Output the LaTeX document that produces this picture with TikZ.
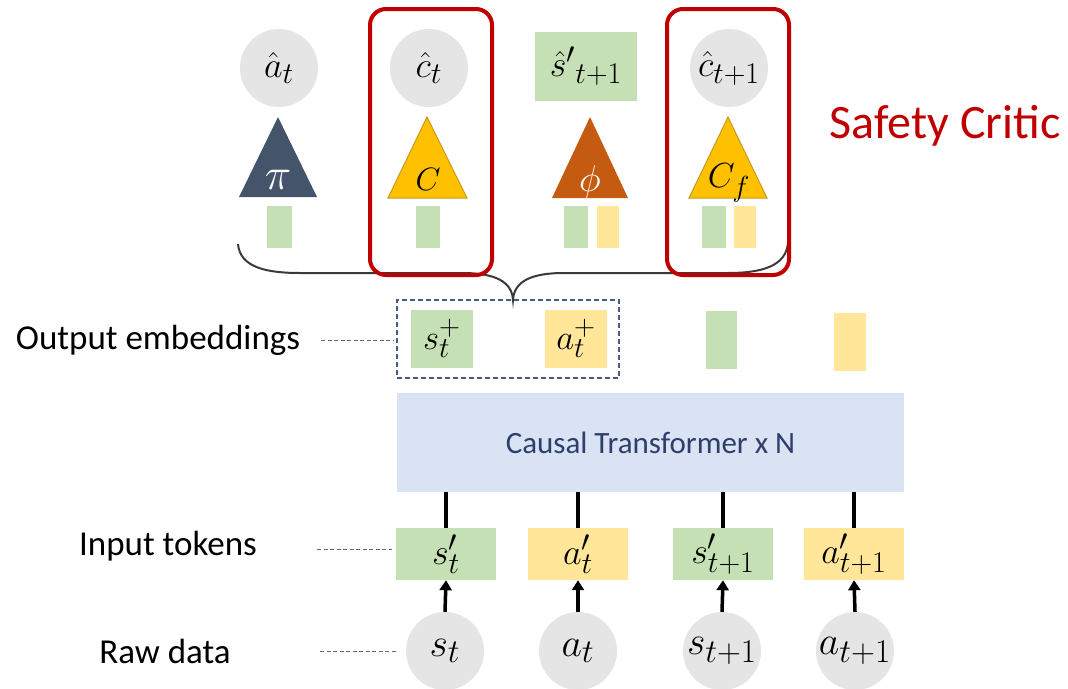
\documentclass[tikz,border=0pt]{standalone}
\usepackage{fontspec}
\setmainfont{Carlito}
\usetikzlibrary{arrows.meta}

\definecolor{tokgreen}{HTML}{C5E0B4}
\definecolor{tokyellow}{HTML}{FFE699}
\definecolor{rawgray}{HTML}{E6E5E5}
\definecolor{pinavy}{HTML}{44546A}
\definecolor{critgold}{HTML}{FFC000}
\definecolor{critedge}{HTML}{C99A1A}
\definecolor{dynorange}{HTML}{C55A11}
\definecolor{tfblue}{HTML}{DAE3F3}
\definecolor{tftext}{HTML}{2F3E6B}
\definecolor{safered}{HTML}{C00000}
\definecolor{embdash}{HTML}{4A5A85}
\definecolor{bracegray}{HTML}{3A3A3A}

% math labels: set at 24.88pt, then enlarged by a factor
\newcommand{\mathbase}{\fontsize{24.88}{30}\selectfont}
\newcommand{\mlbl}[2]{\scalebox{#1}{$#2$}}
\newcommand{\rowsize}{\fontsize{35}{42}\selectfont}

\begin{document}
\begin{tikzpicture}[x=1pt,y=-1pt,
  rawcirc/.style={circle, fill=rawgray, minimum size=78pt, inner sep=0pt, font=\mathbase},
  tokbox/.style={rectangle, minimum width=100pt, minimum height=52pt, inner sep=0pt, font=\mathbase},
  embbox/.style={rectangle, minimum height=58pt, inner sep=0pt, font=\mathbase},
  headbar/.style={rectangle, minimum height=42pt, inner sep=0pt},
  headlbl/.style={inner sep=0pt, font=\mathbase},
  rowlabel/.style={font=\rowsize, inner sep=0pt},
  leader/.style={draw=gray!80!black, line width=1pt, dash pattern=on 4pt off 2.5pt},
  feed/.style={line width=4pt},
  inarrow/.style={line width=3.5pt, -{Triangle[width=12pt,length=10pt]}},
  critbox/.style={draw=safered, line width=4pt, rounded corners=16pt},
]
\useasboundingbox (0,0) rectangle (1068,688);

% ---- raw data ----
\node[rawcirc] (r1) at (445,651) {\mlbl{1.6}{s_t}};
\node[rawcirc] (r2) at (578,651) {\mlbl{1.6}{a_t}};
\node[rawcirc] (r3) at (722,651) {\mlbl{1.6}{s_{t+1}}};
\node[rawcirc] (r4) at (855,651) {\mlbl{1.6}{a_{t+1}}};

% ---- input tokens ----
\node[tokbox, fill=tokgreen]  (t1) at (446,554) {\mlbl{1.45}{s'_t}};
\node[tokbox, fill=tokyellow] (t2) at (578,554) {\mlbl{1.45}{a'_t}};
\node[tokbox, fill=tokgreen]  (t3) at (723,554) {\mlbl{1.45}{s'_{t+1}}};
\node[tokbox, fill=tokyellow] (t4) at (854,554) {\mlbl{1.45}{a'_{t+1}}};

\foreach \i in {1,...,4} \draw[inarrow] (r\i.north) -- (t\i.south);

% ---- transformer ----
\node[rectangle, fill=tfblue, minimum width=507pt, minimum height=99pt, inner sep=0pt,
      font=\fontsize{31}{37}\selectfont, text=tftext] (tf) at (650.5,442.5) {Causal Transformer x N};

\foreach \i in {1,...,4} \draw[feed] (t\i.north) -- (t\i.north |- tf.south);

% ---- output embeddings ----
\node[embbox, fill=tokgreen,  minimum width=62pt] (e1) at (442,338.5) {\mlbl{1.4}{s_t^+}};
\node[embbox, fill=tokyellow, minimum width=62pt] (e2) at (576,338.5) {\mlbl{1.4}{a_t^+}};
\node[embbox, fill=tokgreen,  minimum width=31pt] (e3) at (721.5,340) {};
\node[embbox, fill=tokyellow, minimum width=32pt] (e4) at (850,341.5) {};
\node[rectangle, draw=embdash, line width=1.5pt, dash pattern=on 5pt off 3pt,
      minimum width=222pt, minimum height=78pt, inner sep=0pt] (sel) at (508,339) {};

% ---- row labels and leaders ----
\node[rowlabel] (lo) at (158,340) {Output embeddings};
\node[rowlabel] (li) at (168,546) {Input tokens};
\node[rowlabel] (lr) at (165,651) {Raw data};

\coordinate (lo1) at (321,340);
\coordinate (lo2) at (393,340);
\coordinate (li1) at (317,549);
\coordinate (li2) at (392,549);
\coordinate (lr1) at (320,651);
\coordinate (lr2) at (396,651);
\draw[leader] (lo1) -- (lo2);
\draw[leader] (li1) -- (li2);
\draw[leader] (lr1) -- (lr2);

% ---- brace gathering the heads ----
\coordinate (bl) at (238,244);
\coordinate (bt) at (513,300);
\coordinate (br) at (788,243);
\draw[bracegray, line width=2pt]
  (bl) .. controls (240,268) and (268,273) .. (300,273) -- (462,273)
       .. controls (496,273) and (512,282) .. (bt)
       .. controls (514,282) and (530,273) .. (564,273) -- (728,273)
       .. controls (762,273) and (786,266) .. (br);

% ---- heads ----
\node[rawcirc] (pa) at (279,68) {\mlbl{1.45}{\hat{a}_t}};
\node[rawcirc] (pc) at (429,68) {\mlbl{1.45}{\hat{c}_t}};
\node[rectangle, fill=tokgreen, minimum width=102pt, minimum height=69pt, inner sep=0pt,
      font=\mathbase] (ps) at (586,66.5) {\mlbl{1.45}{\hat{s}'{}_{t+1}}};
\node[rawcirc] (pf) at (729,68) {\mlbl{1.45}{\hat{c}_{t+1}}};

\fill[pinavy] (278,117) -- (317,197) -- (239,197) -- cycle;
\filldraw[fill=critgold, draw=critedge, line width=1pt] (427,117) -- (467,198) -- (388,198) -- cycle;
\fill[dynorange] (590,117) -- (628,198) -- (552,198) -- cycle;
\filldraw[fill=critgold, draw=critedge, line width=1pt] (728,117) -- (767,198) -- (689,198) -- cycle;

\node[headlbl, text=white] (npi)  at (278,180) {\mlbl{1.8}{\pi}};
\node[headlbl]             (nc)   at (428,179) {\mlbl{1.3}{C}};
\node[headlbl, text=white] (nphi) at (590,182) {\mlbl{1.5}{\phi}};
\node[headlbl]             (ncf)  at (729,183) {\mlbl{1.4}{C_f}};

\node[headbar, fill=tokgreen,  minimum width=25pt] (h1)  at (279.5,227) {};
\node[headbar, fill=tokgreen,  minimum width=24pt] (h2)  at (428,227) {};
\node[headbar, fill=tokgreen,  minimum width=24pt] (h3a) at (576,227) {};
\node[headbar, fill=tokyellow, minimum width=22pt] (h3b) at (608,227) {};
\node[headbar, fill=tokgreen,  minimum width=24pt] (h4a) at (714,227) {};
\node[headbar, fill=tokyellow, minimum width=22pt] (h4b) at (745,227) {};

% ---- safety critic frames ----
\draw[critbox] (370,9) rectangle (492,275);
\draw[critbox] (667,9) rectangle (789,275);
\node[font=\fontsize{48}{56}\selectfont, text=safered, inner sep=0pt] (sc) at (945,126) {Safety Critic};
\end{tikzpicture}
\end{document}
